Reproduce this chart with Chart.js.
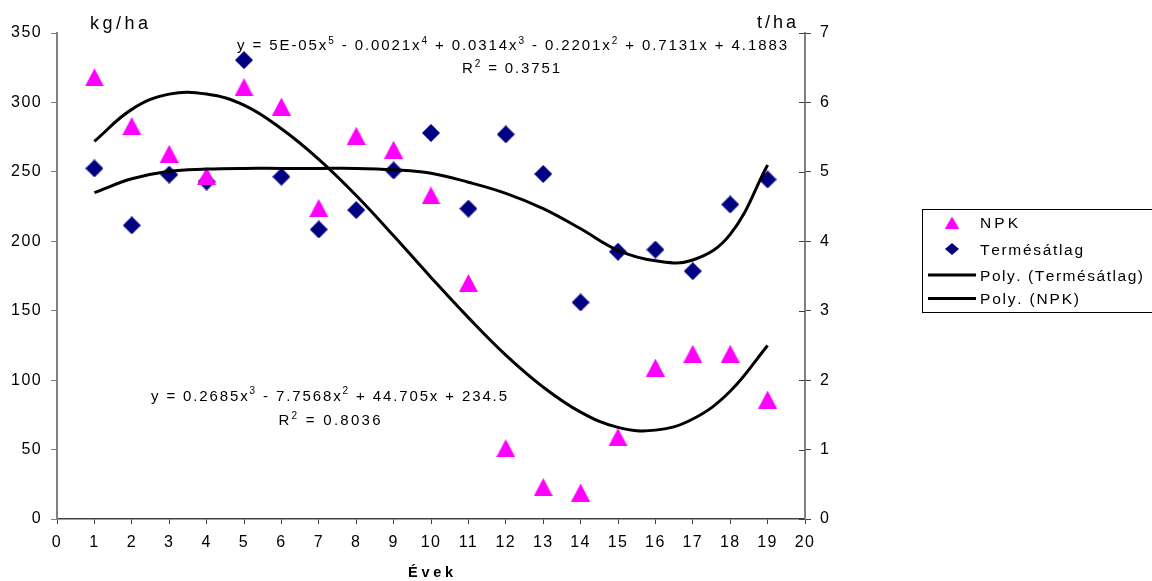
<!DOCTYPE html>
<html><head><meta charset="utf-8">
<script src="https://cdn.jsdelivr.net/npm/chart.js@4.4.1/dist/chart.umd.min.js"></script>
<style>html,body{margin:0;padding:0;background:#fff;overflow:hidden}#wrap{width:1152px;height:581px;position:relative}</style>
</head><body><div id="wrap"><canvas id="c" width="1152" height="581"></canvas></div>
<script>
// ---- data ----
const years = [1,2,3,4,5,6,7,8,9,10,11,12,13,14,15,16,17,18,19];
const npk = [318,283,263,247,311,297,224,276,266,233,170,51,23,19,59,109,119,119,86];          // kg/ha (left axis)
const termesatlag = [5.05,4.23,4.96,4.86,6.61,4.93,4.17,4.45,5.02,5.56,4.47,5.54,4.97,3.12,3.85,3.88,3.57,4.53,4.89]; // t/ha (right axis)
const polyNpk = [272,295,306,306,298,281,259,233,204,174,145,118,95,77,66,64,72,92,125];       // trendline, kg/ha
const polyTermes = [4.70,4.90,5.01,5.04,5.05,5.05,5.05,5.05,5.03,4.98,4.85,4.69,4.47,4.18,3.87,3.72,3.73,4.10,5.10]; // trendline, t/ha
const xMin = 0, xMax = 20, xStep = 1;
const leftMax = 350, leftStep = 50;
const rightMax = 7, rightStep = 1;
const seriesNames = ['NPK','Termésátlag','Poly. (Termésátlag)','Poly. (NPK)'];
const eqTermes = [['y = 5E-05x'],['5',1],[' - 0.0021x'],['4',1],[' + 0.0314x'],['3',1],[' - 0.2201x'],['2',1],[' + 0.7131x + 4.1883']];
const r2Termes = [['R'],['2',1],[' = 0.3751']];
const eqNpk = [['y = 0.2685x'],['3',1],[' - 7.7568x'],['2',1],[' + 44.705x + 234.5']];
const r2Npk = [['R'],['2',1],[' = 0.8036']];

const FONT = '"Liberation Sans", Arial, sans-serif';
const MAGENTA = '#FF00FF', NAVY = '#000080';

function makeTriangle(w, h, color){
  const c = document.createElement('canvas'); c.width = w; c.height = h;
  const g = c.getContext('2d'); g.fillStyle = color;
  g.beginPath(); g.moveTo(w/2, 0); g.lineTo(w, h); g.lineTo(0, h); g.closePath(); g.fill();
  return c;
}
function makeDiamond(w, h, color){
  const c = document.createElement('canvas'); c.width = w; c.height = h;
  const g = c.getContext('2d'); g.fillStyle = color;
  g.beginPath(); g.moveTo(w/2, 0); g.lineTo(w, h/2); g.lineTo(w/2, h); g.lineTo(0, h/2); g.closePath(); g.fill();
  return c;
}
const triImg = makeTriangle(19, 18, MAGENTA);
const diaImg = makeDiamond(18, 18, NAVY);
const triLeg = makeTriangle(14, 12, MAGENTA);
const diaLeg = makeDiamond(14, 12, NAVY);

// rich text drawn char by char, stretched to a target width
function richText(ctx, segs, x, y, width, size, opts){
  opts = opts || {};
  const weight = opts.bold ? 'bold ' : '';
  const base = weight + size + 'px ' + FONT;
  const sup = weight + Math.round(size*0.65) + 'px ' + FONT;
  const chars = [];
  segs.forEach(s => { for (const ch of s[0]) chars.push({ch, sup: !!s[1]}); });
  let natural = 0;
  ctx.save();
  ctx.letterSpacing = '0px';
  chars.forEach(c => { ctx.font = c.sup ? sup : base; c.w = ctx.measureText(c.ch).width; natural += c.w; });
  let sp = 0;
  if (width) sp = (width - natural) / Math.max(1, chars.length - 1);
  const total = natural + sp * (chars.length - 1);
  let cx = x;
  if (opts.align === 'center') cx = x - total/2;
  ctx.fillStyle = '#000';
  ctx.textBaseline = 'alphabetic';
  ctx.textAlign = 'left';
  chars.forEach(c => {
    ctx.font = c.sup ? sup : base;
    ctx.fillText(c.ch, cx, c.sup ? y - size*0.42 : y);
    cx += c.w + sp;
  });
  ctx.restore();
}

const spacingPlugin = {
  id: 'spacing',
  beforeDraw(chart){ chart.ctx.letterSpacing = '1.4px'; },
  afterDraw(chart){
    const ctx = chart.ctx;
    ctx.save();
    ctx.letterSpacing = '0px';
    // inward tick marks on right axis
    const y2 = chart.scales.y2;
    ctx.strokeStyle = '#404040'; ctx.lineWidth = 1;
    for (let v = 0; v <= rightMax; v += rightStep){
      const py = Math.round(y2.getPixelForValue(v)) + 0.5;
      ctx.beginPath(); ctx.moveTo(y2.left - 6, py); ctx.lineTo(y2.left, py); ctx.stroke();
    }
    ctx.restore();
    // axis unit labels and x title
    richText(ctx, [['kg/ha']], 90, 28.5, 58, 18);
    richText(ctx, [['t/ha']], 757, 27.5, 39, 18);
    richText(ctx, [['Évek']], 408, 577, 45, 14.5, {bold:true});
    // trendline equations
    richText(ctx, eqTermes, 237, 50, 550, 15);
    richText(ctx, r2Termes, 462, 73, 98, 15);
    richText(ctx, eqNpk, 151, 400.5, 356, 15);
    richText(ctx, r2Npk, 278.5, 425, 102, 15);
    // legend
    ctx.save();
    ctx.strokeStyle = '#000'; ctx.lineWidth = 1;
    ctx.strokeRect(922.5, 209.5, 260, 103);
    ctx.drawImage(triLeg, 952 - 7, 222.5 - 6);
    ctx.drawImage(diaLeg, 952 - 7, 249 - 6);
    ctx.strokeStyle = '#000'; ctx.lineWidth = 3; ctx.lineCap = 'butt';
    ctx.beginPath(); ctx.moveTo(928, 275); ctx.lineTo(976, 275); ctx.stroke();
    ctx.beginPath(); ctx.moveTo(928, 298.5); ctx.lineTo(976, 298.5); ctx.stroke();
    ctx.restore();
    richText(ctx, [[seriesNames[0]]], 980, 228.3, 38, 15.5);
    richText(ctx, [[seriesNames[1]]], 980, 255, 103, 15.5);
    richText(ctx, [[seriesNames[2]]], 980, 280.5, 163, 15.5);
    richText(ctx, [[seriesNames[3]]], 980, 303.8, 99, 15.5);
  }
};

const pts = (xs, ys) => xs.map((x, i) => ({x, y: ys[i]}));

new Chart(document.getElementById('c'), {
  type: 'scatter',
  data: {
    datasets: [
      { label: seriesNames[3], data: pts(years, polyNpk), yAxisID: 'y', showLine: true, borderColor: '#000', borderWidth: 3, pointRadius: 0, tension: 0.4, fill: false, order: 0 },
      { label: seriesNames[2], data: pts(years, polyTermes), yAxisID: 'y2', showLine: true, borderColor: '#000', borderWidth: 3, pointRadius: 0, tension: 0.4, fill: false, order: 0 },
      { label: seriesNames[0], data: pts(years, npk), yAxisID: 'y', pointStyle: triImg, pointRadius: 9, pointHoverRadius: 9, backgroundColor: MAGENTA, borderColor: MAGENTA, order: 1 },
      { label: seriesNames[1], data: pts(years, termesatlag), yAxisID: 'y2', pointStyle: diaImg, pointRadius: 9, pointHoverRadius: 9, backgroundColor: NAVY, borderColor: NAVY, order: 1 }
    ]
  },
  options: {
    responsive: false, animation: false, devicePixelRatio: 1,
    layout: { padding: { top: 33, left: 0, right: 0, bottom: 0 } },
    plugins: { legend: { display: false }, tooltip: { enabled: false }, title: { display: false } },
    scales: {
      x: {
        type: 'linear', min: xMin, max: xMax,
        ticks: { stepSize: xStep, color: '#000', font: { family: FONT, size: 16 }, padding: 9, maxRotation: 0, autoSkip: false },
        grid: { drawOnChartArea: false, tickLength: 5, color: '#404040' },
        border: { color: '#404040', width: 1.5 },
        afterFit(s){ s.height = 62; }
      },
      y: {
        position: 'left', min: 0, max: leftMax,
        ticks: { stepSize: leftStep, color: '#000', font: { family: FONT, size: 16 }, padding: 9 },
        grid: { drawOnChartArea: false, tickLength: 6, color: '#808080' },
        border: { color: '#808080', width: 2 },
        afterFit(s){ s.width = 57; }
      },
      y2: {
        position: 'right', min: 0, max: rightMax,
        ticks: { stepSize: rightStep, color: '#000', font: { family: FONT, size: 16 }, padding: 9 },
        grid: { drawOnChartArea: false, tickLength: 6, color: '#404040' },
        border: { color: '#808080', width: 2 },
        afterFit(s){ s.width = 347; }
      }
    }
  },
  plugins: [spacingPlugin]
});
</script></body></html>
